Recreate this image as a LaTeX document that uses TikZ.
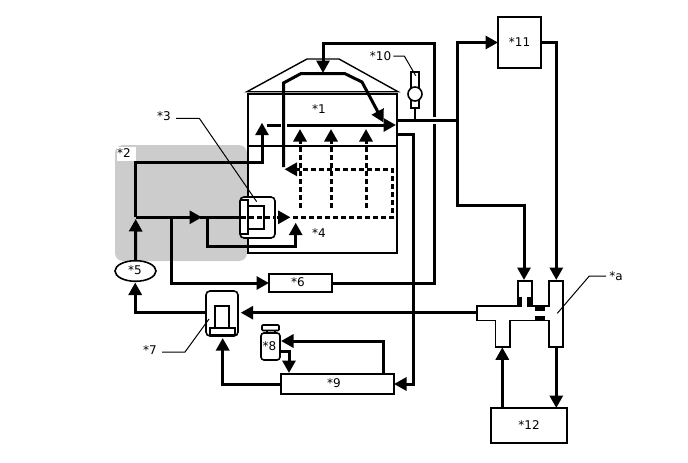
\documentclass[tikz,border=0pt]{standalone}
\usepackage{fontspec}
\setmainfont{DejaVu Sans}
\usetikzlibrary{arrows.meta,shapes.geometric}
\tikzset{
  x=1pt,y=-1pt,
  outline/.style={draw=black,line width=1.6pt,line join=miter},
  blockbox/.style={outline,fill=white,inner sep=0pt,outer sep=0pt,font=\fontsize{12}{12}\selectfont},
  tag/.style={inner sep=0pt,font=\fontsize{12}{12}\selectfont},
  pipe/.style={draw=black,line width=3pt,line join=miter},
  flow/.style={pipe,-{Triangle[width=13pt,length=12.5pt]}},
  dashpipe/.style={pipe,dash pattern=on 5pt off 3pt},
  leader/.style={draw=black,line width=1pt},
  gapmask/.style={draw=white,line width=5pt},
  part/.style={draw=black,line width=1.6pt,fill=white},
  solidblack/.style={fill=black,draw=none},
}
\begin{document}
\begin{tikzpicture}
\useasboundingbox (0,0) rectangle (688,463);

% Shaded zone behind the pump group
\fill[black!20,rounded corners=8pt] (115,145) rectangle (247,261);
\node[fill=white,minimum width=19pt,minimum height=14pt,inner sep=0pt] (tagbg) at (126.5,154) {};

% Tank body with lid
\node[outline,fill=none,minimum width=149pt,minimum height=159pt,inner sep=0pt,outer sep=0pt] (tank) at (322.7,173.5) {};
\draw[outline] (tank.west |- 0,146) coordinate (levelL) -- (tank.east |- 0,146) coordinate (levelR);
\draw[outline,line width=1.4pt] (247,91.7) -- (307,59) -- (339,59) -- (398,91.7) -- cycle;

% Blocks
\node[blockbox,minimum width=43pt,minimum height=51pt] (n11) at (519.5,42.5) {*11};
\node[blockbox,minimum width=63pt,minimum height=18pt] (n6) at (300.5,283) {};
\node[blockbox,minimum width=113pt,minimum height=20pt] (n9) at (337.5,384) {};
\node[blockbox,minimum width=76.5pt,minimum height=35pt] (n12) at (529,425.5) {*12};
\node[draw=black,line width=1.6pt,fill=white,ellipse,inner sep=0pt,outer sep=0pt,minimum width=41pt,minimum height=20.6pt] (n5) at (135.5,271) {};

% Circulation pump in the shaded zone
\draw[part,rounded corners=4pt] (240,197) rectangle (275,238);
\coordinate (p3L) at (240,217.3);
\draw[part] (248,206) rectangle (264,229);
\draw[part] (240.5,200) rectangle (248,234);

% Second pump
\draw[part,rounded corners=4pt] (206,291) rectangle (238,336);
\coordinate (p7L) at (206,312.7);
\coordinate (p7R) at (240.7,312.7);
\coordinate (p7B) at (222.7,338);
\draw[part] (215,306) rectangle (229,328);
\draw[part] (210,328) rectangle (235,335);

% Filter bottle
\draw[part] (267,330) rectangle (275,334);
\draw[part,rounded corners=1pt] (262,325) rectangle (279,330.5);
\draw[part,rounded corners=3pt] (261,333) rectangle (280,360);
\coordinate (p8R) at (281,341);
\coordinate (p8O) at (280,351.7);

% Sensor on the outlet line
\draw[part] (411,72) rectangle (419,108);
\node[draw=black,line width=1.6pt,fill=white,circle,minimum size=14pt,inner sep=0pt,outer sep=0pt] (valve) at (415,94) {};

% Mixing valve body
\draw[outline,fill=white] (477,306) -- (518,306) -- (518,281) -- (532,281) -- (532,306) -- (549,306) -- (549,281) -- (563,281) -- (563,347) -- (549,347) -- (549,320.3) -- (510,320.3) -- (510,347) -- (495.5,347) -- (495.5,320.3) -- (477,320.3) -- cycle;
\draw[draw=white,line width=3pt] (522,306) -- (527,306);
\fill[solidblack] (517.5,296.7) rectangle (521.8,306.5);
\fill[solidblack] (527.3,296.7) rectangle (531.7,306.5);
\fill[solidblack] (535.3,306) rectangle (545.3,310.7);
\fill[solidblack] (535.3,315.7) rectangle (545.3,320.8);
\coordinate (mixA) at (524,280);
\coordinate (mixB) at (556.3,280);
\coordinate (mixC) at (477,312.7);
\coordinate (mixD) at (502.3,347.3);
\coordinate (mixE) at (556.3,347.3);

% Junction points of the piping
\coordinate (jA) at (135.7,217.3);
\coordinate (jB) at (171.7,217.3);
\coordinate (jC) at (207.7,217.3);
\coordinate (jD) at (135.7,162.7);
\coordinate (out1) at (397,120.3);
\coordinate (out2) at (397,134);
\coordinate (jT) at (457.3,120.3);

% Return line from the radiator block, running over the lid
\draw[flow] (n6.east) -- (434,283) -- (434,43) -- (323,43) -- (323,73);
\draw[draw=white,line width=6pt] (434,116.5) -- (434,124);

% Outlet to the upper block and on to the mixing valve
\draw[pipe,line width=2.6pt] (valve.south) ++(0,7) -- (415,120.3);
\draw[pipe,line width=2.6pt] (out1) -- (jT);
\draw[flow] (jT) |- (n11.west);
\draw[flow] (jT) |- (524,205) -- (mixA);
\draw[flow] (n11.east) -| (mixB);
\draw[flow] (out2) -- (413,134) |- (n9.east);

% Lines in the shaded zone
\draw[flow] (n5.north) ++(0,-0.5) -- (135.7,219);
\draw[flow] (jA) -- (202,217.3);
\draw[pipe] (200,217.3) -- (p3L);
\draw[pipe] (jA) -- (jD) -- (262,162.7);
\draw[flow] (262,164.2) -- (262,122.7);
\draw[flow] (jB) |- (n6.west);
\draw[flow] (jC) |- (295.7,246) -- (295.7,222.7);

% Through the pump
\draw[dashpipe] (241,217.3) -- (274,217.3);
\draw[flow] (277,217.3) -- (290.5,217.3);

% Internal flow inside the tank
\draw[flow] (267,125) -- (396,125);
\draw[gapmask,line width=6pt] (281,125) -- (287,125);
\draw[flow] (283.5,167) -- (283.5,83) -- (300.7,73.7) -- (345,73.7) -- (362,82) -- (383.5,122.5);

% Dashed coolant paths
\draw[dashpipe] (293,217.3) -- (392.3,217.3) -- (392.3,169.3) -- (296,169.3);
\draw[flow] (297,169.3) -- (284.5,169.3);
\foreach \px/\pname in {300/a,331/b,366/c}{
  \coordinate (rise\pname) at (\px,208);
  \draw[dashpipe] (rise\pname) -- (\px,142);
  \draw[flow] (\px,142) -- (\px,129);
}

% Lower circuit
\draw[flow] (mixC) -- (p7R);
\draw[flow] (p7L) -- (135.2,312.7) -- (135.2,282.5);
\draw[flow] (n9.west |- 0,384) -| (p7B);
\draw[flow] (383,374) |- (p8R);
\draw[flow] (p8O) -- (289,351.7) -- (289,373);
\draw[flow] (mixD |- n12.north) -- (mixD);
\draw[flow] (mixE) -- (mixE |- n12.north);

% Leader lines
\draw[leader] (176,118.3) -- (199.3,118.3) -- (256.7,201.7);
\draw[leader] (393.3,56) -- (404.3,56) -- (415.7,75.7);
\draw[leader] (162,352) -- (185,352) -- (209,319);
\draw[leader] (606,276) -- (589.3,276) -- (557.3,313.3);

% Labels
\node[tag] (t1) at (319,109) {*1};
\node[tag] (t2) at (124,153) {*2};
\node[tag] (t3) at (164,116.5) {*3};
\node[tag] (t4) at (319,233.5) {*4};
\node[tag] (t5) at (135,270.5) {*5};
\node[tag] (t6) at (298,282.5) {*6};
\node[tag] (t7) at (150,350) {*7};
\node[tag] (t8) at (269.5,346.5) {*8};
\node[tag] (t9) at (334,383.5) {*9};
\node[tag] (t10) at (380.5,56) {*10};
\node[tag] (ta) at (616,276) {*a};
\end{tikzpicture}
\end{document}
